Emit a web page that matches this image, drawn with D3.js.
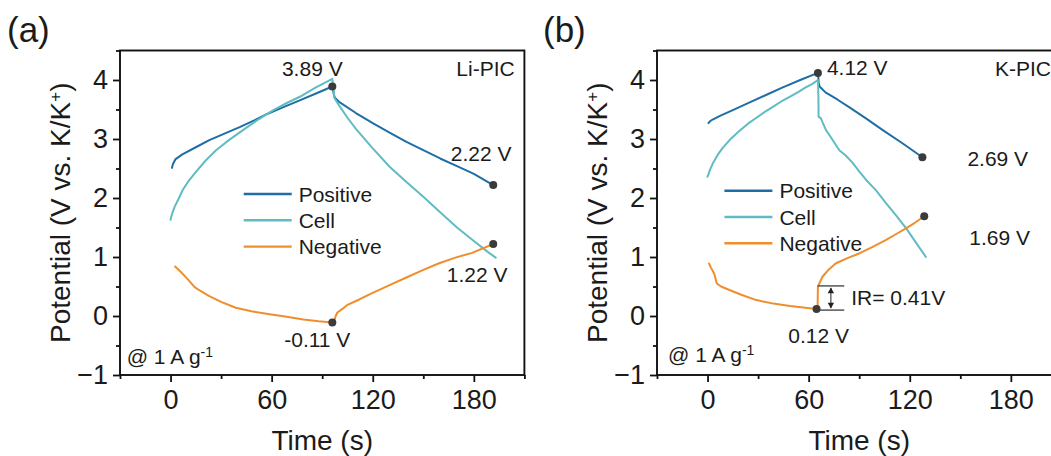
<!DOCTYPE html>
<html>
<head>
<meta charset="utf-8">
<script src="https://cdn.jsdelivr.net/npm/d3@7"></script>
<style>
  html, body { margin: 0; padding: 0; background: #ffffff; }
  svg { display: block; font-family: "Liberation Sans", Arial, Helvetica, sans-serif; }
</style>
</head>
<body>
<svg id="chart" width="1051" height="456"></svg>
<script>
// ---- data -------------------------------------------------------------
const timeTicks = [0, 60, 120, 180];
const timeMinorTicks = [-30, 30, 90, 150, 210];
const potentialTicks = [-1, 0, 1, 2, 3, 4];
const potentialMinorTicks = [-0.5, 0.5, 1.5, 2.5, 3.5, 4.5];
const seriesNames = ["Positive", "Cell", "Negative"];

// Li-PIC, [time (s), potential (V)]
const liPositive = [
  [0.8, 2.51], [1.5, 2.58], [3, 2.66], [7, 2.74], [15, 2.86], [23, 2.98], [32, 3.09],
  [41, 3.20], [50, 3.32], [57, 3.42], [67, 3.54], [77, 3.66], [87, 3.78], [96, 3.89],
  [97, 3.74], [97.5, 3.70], [100, 3.63], [110, 3.44], [120, 3.27], [130, 3.11],
  [140, 2.95], [150, 2.81], [160, 2.67], [170, 2.54], [180, 2.41], [191.5, 2.22]
];
const liCell = [
  [0, 1.63], [1, 1.74], [2.4, 1.85], [5, 2.00], [7.3, 2.14], [11, 2.30], [15.3, 2.45],
  [21, 2.64], [27, 2.81], [35, 2.99], [43, 3.15], [52, 3.33], [61, 3.49], [69, 3.61],
  [77, 3.72], [86, 3.87], [96, 4.02], [97.3, 3.69], [100, 3.57], [105, 3.36],
  [110, 3.17], [120, 2.84], [130, 2.53], [140, 2.27], [150, 2.02], [160, 1.76],
  [170, 1.50], [180, 1.27], [189, 1.07], [193, 0.99]
];
const liNegative = [
  [2.7, 0.84], [6, 0.75], [10, 0.63], [14.3, 0.49], [18, 0.42], [22.7, 0.34], [30, 0.24],
  [38.7, 0.14], [48, 0.08], [58.8, 0.03], [68, -0.01], [78.8, -0.06], [88, -0.09],
  [96, -0.11], [96.5, -0.07], [97.5, -0.05], [98, 0.0], [99, 0.06], [102, 0.12],
  [105, 0.19], [112, 0.28], [119, 0.38], [129, 0.51], [139, 0.64], [149, 0.77],
  [159, 0.89], [169, 0.99], [179, 1.07], [191.5, 1.22]
];
const liMarkers = [[96, 3.89], [191.5, 2.22], [191.5, 1.22], [96, -0.11]];

// K-PIC, [time (s), potential (V)]
const kPositive = [
  [0.5, 3.27], [1.5, 3.30], [3, 3.33], [8, 3.40], [15, 3.49], [25, 3.62], [35, 3.75],
  [45, 3.88], [55, 4.00], [65.5, 4.12], [66, 3.95], [66.5, 3.89], [70, 3.79],
  [77, 3.67], [84, 3.54], [94, 3.35], [104, 3.15], [115, 2.94], [127.5, 2.69]
];
const kCell = [
  [0, 2.36], [1.5, 2.48], [3, 2.58], [6, 2.73], [9, 2.85], [14, 3.01], [19, 3.14],
  [24, 3.26], [29, 3.36], [34, 3.46], [39, 3.55], [44, 3.64], [49, 3.72], [54, 3.80],
  [58, 3.87], [62, 3.93], [65.5, 4.00], [65.8, 3.70], [65.9, 3.38], [67.3, 3.35],
  [68, 3.30], [70.3, 3.15], [72, 3.08], [75, 2.95], [78.2, 2.81], [82, 2.72],
  [86, 2.60], [90, 2.45], [94, 2.31], [100, 2.13], [106, 1.91], [112, 1.70],
  [118, 1.48], [124, 1.23], [129.6, 1.00]
];
const kNegative = [
  [0.9, 0.89], [2, 0.82], [3.9, 0.72], [4.5, 0.66], [5.5, 0.55], [8, 0.50], [13, 0.44],
  [20, 0.36], [29, 0.27], [39, 0.21], [49, 0.17], [58, 0.14], [64.7, 0.12],
  [65.3, 0.12], [65.5, 0.50], [68.3, 0.67], [72, 0.79], [76, 0.89], [83, 0.98],
  [90, 1.06], [98, 1.17], [106, 1.29], [112, 1.39], [118, 1.49], [123, 1.58],
  [128.6, 1.69]
];
const kMarkers = [[65.5, 4.12], [127.5, 2.69], [128.6, 1.69], [64.7, 0.12]];

// IR drop on the negative electrode of the K-PIC
const kIrStart = 0.10;
const kIrDrop = 0.41;
const kIrTime = [65.3, 81.1];

// ---- styling ----------------------------------------------------------
const colors = { Positive: "#1f6ea6", Cell: "#5fbcc2", Negative: "#ef8e2c" };
const textColor = "#1b1b1b";
const svg = d3.select("#chart");
svg.append("rect").attr("width", 1051).attr("height", 456).attr("fill", "#fff");

const plotTop = 50.5, plotBottom = 375, plotW = 404.4;

function fmtV(v) { return v.toFixed(2) + " V"; }

function drawPanel(cfg) {
  const g = svg.append("g");
  const x = d3.scaleLinear().domain([-30, 210]).range([cfg.left, cfg.left + plotW]);
  const y = d3.scaleLinear().domain([-1, 4.5]).range([plotBottom, plotTop]);

  // axes
  const xMajor = d3.axisBottom(x).tickValues(timeTicks).tickSize(7).tickSizeOuter(0).tickPadding(8);
  const xMinor = d3.axisBottom(x).tickValues(timeMinorTicks).tickSize(4).tickSizeOuter(0).tickFormat("");
  const yMajor = d3.axisLeft(y).tickValues(potentialTicks).tickSize(7).tickSizeOuter(0).tickPadding(5)
    .tickFormat(d => d < 0 ? "\u2212" + Math.abs(d) : String(d));
  const yMinor = d3.axisLeft(y).tickValues(potentialMinorTicks).tickSize(4).tickSizeOuter(0).tickFormat("");

  [[xMinor, "x"], [xMajor, "x"], [yMinor, "y"], [yMajor, "y"]].forEach(([ax, k]) => {
    const a = g.append("g")
      .attr("transform", k === "x" ? `translate(0,${plotBottom})` : `translate(${cfg.left},0)`)
      .call(ax);
    a.select(".domain").remove();
    a.selectAll(".tick line").attr("stroke", "#111").attr("stroke-width", 1.8);
    a.selectAll(".tick text").attr("fill", textColor)
      .style("font-family", "'Liberation Sans', Arial, sans-serif").style("font-size", "27px");
  });

  // frame
  g.append("rect")
    .attr("x", cfg.left).attr("y", plotTop)
    .attr("width", plotW).attr("height", plotBottom - plotTop)
    .attr("fill", "none").attr("stroke", "#111").attr("stroke-width", 1.9);

  // axis titles
  g.append("text")
    .attr("x", cfg.left + plotW / 2).attr("y", 450)
    .attr("text-anchor", "middle").attr("fill", textColor).style("font-size", "28px")
    .text("Time (s)");
  const yt = g.append("text")
    .attr("transform", `translate(${cfg.left - 50},${(plotTop + plotBottom) / 2}) rotate(-90)`)
    .attr("text-anchor", "middle").attr("fill", textColor).style("font-size", "28px");
  yt.append("tspan").text("Potential (V vs. K/K");
  yt.append("tspan").attr("dy", "-0.55em").style("font-size", "17px").text("+");
  yt.append("tspan").attr("dy", "0.35em").text(")");

  // panel letter
  g.append("text").attr("x", cfg.letterX).attr("y", 42)
    .attr("fill", textColor).style("font-size", "35px").text(cfg.letter);

  // curves
  const line = d3.line().x(d => x(d[0])).y(d => y(d[1]));
  const clipId = "clip-" + cfg.letter.replace(/[()]/g, "");
  svg.append("clipPath").attr("id", clipId).append("rect")
    .attr("x", cfg.left).attr("y", plotTop).attr("width", plotW).attr("height", plotBottom - plotTop);
  const plot = g.append("g").attr("clip-path", `url(#${clipId})`);
  cfg.series.forEach((s, i) => {
    plot.append("path").datum(s)
      .attr("d", line).attr("fill", "none")
      .attr("stroke", colors[seriesNames[i]]).attr("stroke-width", 2)
      .attr("stroke-linejoin", "round").attr("stroke-linecap", "round");
  });

  // extras (IR bracket etc.)
  if (cfg.extra) cfg.extra(g, x, y);

  // markers and their value labels
  cfg.markers.forEach((m, i) => {
    g.append("circle").attr("cx", x(m[0])).attr("cy", y(m[1])).attr("r", 4)
      .attr("fill", "#3b3b3b");
    const o = cfg.labelOffsets[i];
    g.append("text")
      .attr("x", x(m[0]) + o[0]).attr("y", y(m[1]) + o[1])
      .attr("text-anchor", o[2]).attr("fill", textColor).style("font-size", "21px")
      .text(fmtV(m[1]));
  });

  // legend
  seriesNames.forEach((name, i) => {
    const ly = cfg.legend[1] + i * 26.3;
    g.append("line").attr("x1", cfg.legend[0]).attr("x2", cfg.legend[0] + 48)
      .attr("y1", ly).attr("y2", ly)
      .attr("stroke", colors[name]).attr("stroke-width", 2.4);
    g.append("text").attr("x", cfg.legend[0] + 55).attr("y", ly + 7.5)
      .attr("fill", textColor).style("font-size", "21px").text(name);
  });

  // device name
  g.append("text").attr("x", cfg.nameX).attr("y", 76)
    .attr("text-anchor", cfg.nameAnchor).attr("fill", textColor).style("font-size", "21px")
    .text(cfg.name);

  // current density
  const cd = g.append("text").attr("x", cfg.rateX).attr("y", cfg.rateY)
    .attr("fill", textColor).style("font-size", "21px");
  cd.append("tspan").text("@ 1 A g");
  cd.append("tspan").attr("dy", "-0.5em").style("font-size", "14px").text("-1");
}

drawPanel({
  letter: "(a)", letterX: 7, left: 120,
  series: [liPositive, liCell, liNegative],
  markers: liMarkers,
  labelOffsets: [[-20, -10, "middle"], [-12, -24, "middle"], [-16, 38, "middle"], [-15, 25, "middle"]],
  legend: [243.7, 194],
  name: "Li-PIC", nameX: 514.7, nameAnchor: "end",
  rateX: 126.7, rateY: 364
});

drawPanel({
  letter: "(b)", letterX: 543, left: 657,
  series: [kPositive, kCell, kNegative],
  markers: kMarkers,
  labelOffsets: [[9, 2, "start"], [45, 9, "start"], [45, 29, "start"], [2, 34, "middle"]],
  legend: [724.4, 190.7],
  name: "K-PIC", nameX: 995, nameAnchor: "start",
  rateX: 668, rateY: 362,
  extra: (g, x, y) => {
    const y0 = y(kIrStart), y1 = y(kIrStart + kIrDrop);
    const x0 = x(kIrTime[0]), x1 = x(kIrTime[1]);
    [y0, y1].forEach(yy => g.append("line")
      .attr("x1", x0).attr("x2", x1).attr("y1", yy).attr("y2", yy)
      .attr("stroke", "#555").attr("stroke-width", 1.5));
    const xm = (x0 + x1) / 2;
    g.append("line").attr("x1", xm).attr("x2", xm).attr("y1", y1 + 2).attr("y2", y0 - 2)
      .attr("stroke", "#222").attr("stroke-width", 1);
    const head = 3.2;
    g.append("path")
      .attr("d", `M${xm},${y1 + 1.5} l${-head},${head * 1.8} l${head * 2},0 Z`)
      .attr("fill", "#222");
    g.append("path")
      .attr("d", `M${xm},${y0 - 1.5} l${-head},${-head * 1.8} l${head * 2},0 Z`)
      .attr("fill", "#222");
    g.append("text").attr("x", x1 + 7).attr("y", (y0 + y1) / 2 + 7)
      .attr("fill", textColor).style("font-size", "21px")
      .text("IR= " + kIrDrop.toFixed(2) + "V");
  }
});
</script>
</body>
</html>
